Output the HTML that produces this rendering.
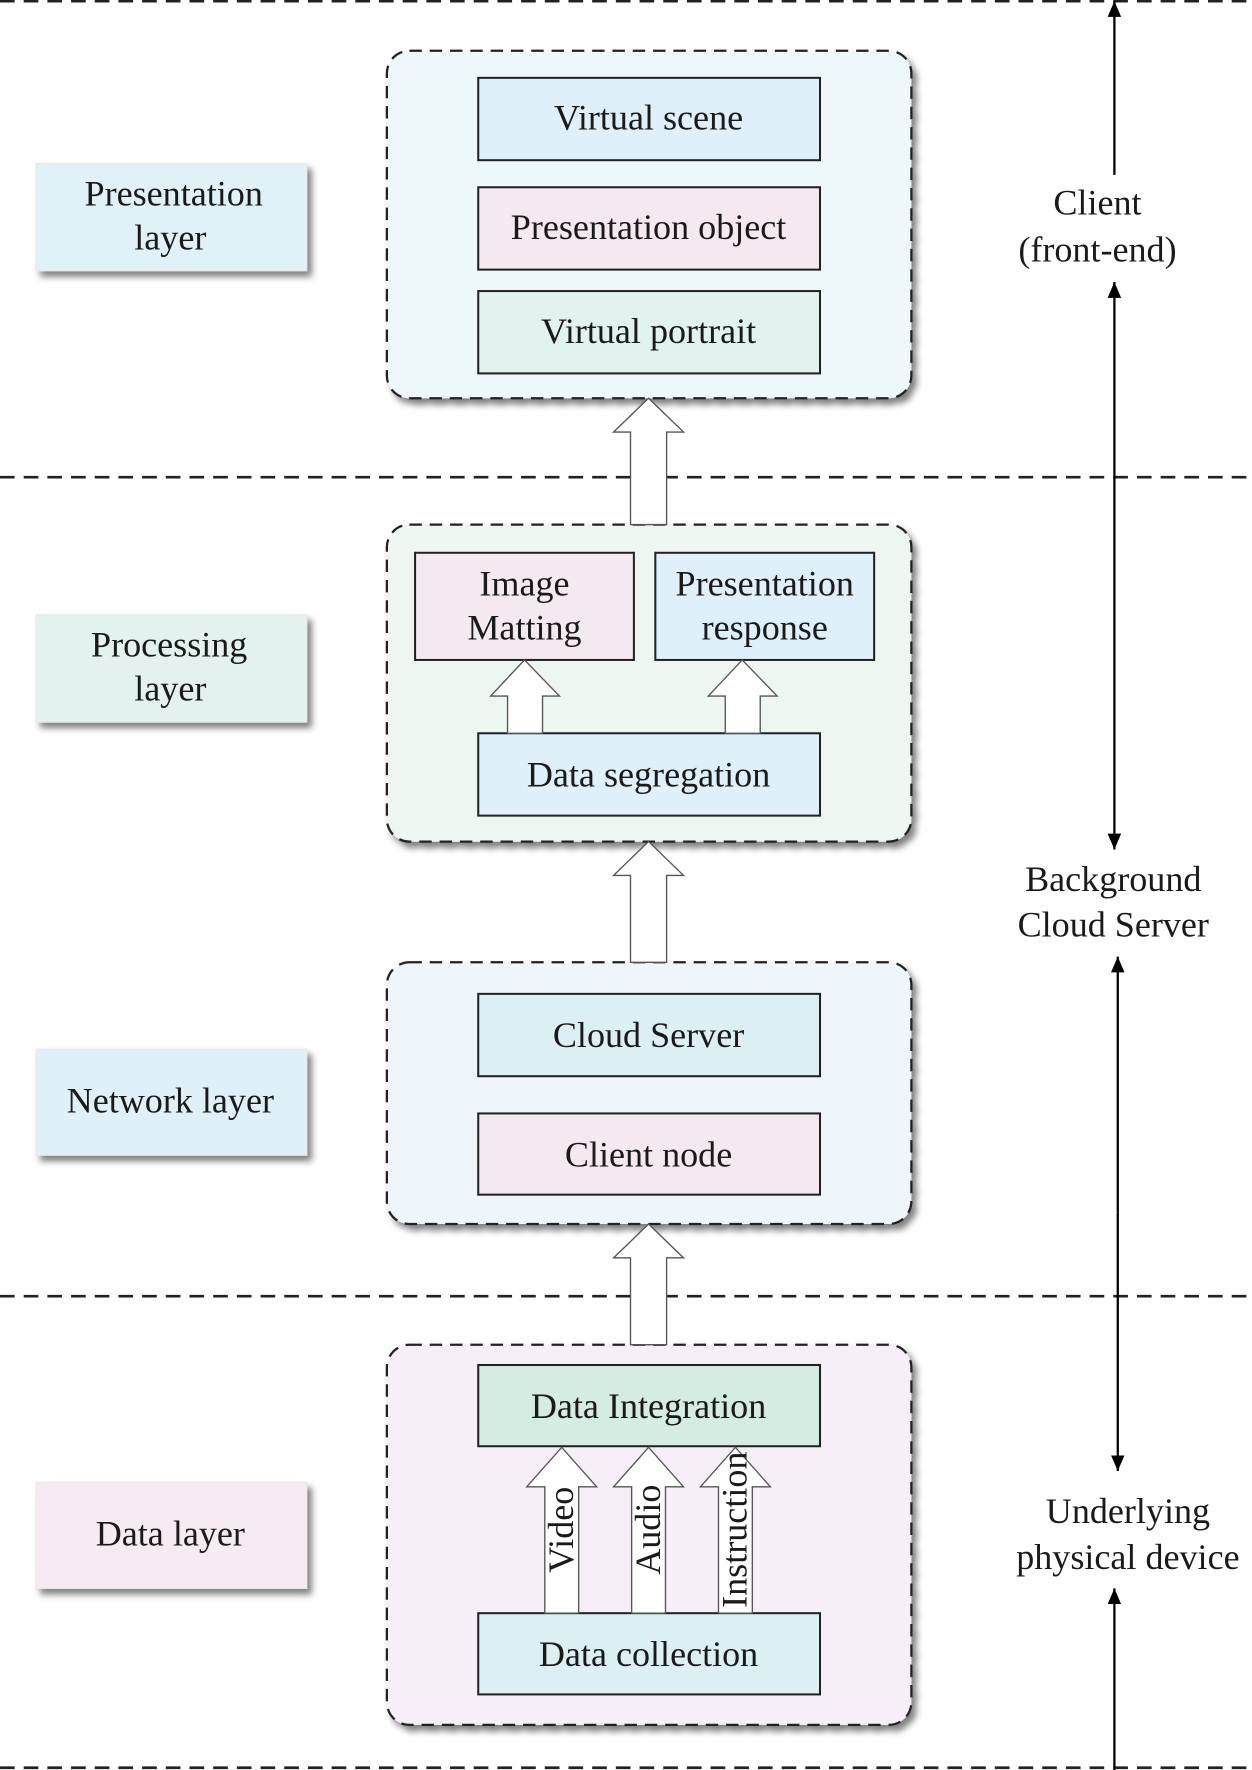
<!DOCTYPE html>
<html><head><meta charset="utf-8"><style>
html,body{margin:0;padding:0;background:#fff;}
svg{display:block;}
text{font-family:"Liberation Serif",serif;font-size:32px;fill:#1a1a1a;}
</style></head><body>
<svg width="1252" height="1770" viewBox="0 0 1110 1569" preserveAspectRatio="none" xmlns="http://www.w3.org/2000/svg">
<defs>
<filter id="sh" x="-10%" y="-10%" width="130%" height="130%"><feGaussianBlur in="SourceAlpha" stdDeviation="3"/><feOffset dx="4" dy="5"/><feComponentTransfer><feFuncA type="linear" slope="0.5"/></feComponentTransfer><feMerge><feMergeNode/><feMergeNode in="SourceGraphic"/></feMerge></filter>
<marker id="ah" markerWidth="16" markerHeight="16" refX="14" refY="6" orient="auto" markerUnits="userSpaceOnUse"><path d="M0,0 L14,6 L0,12 Z" fill="#000"/></marker>
</defs>
<g stroke="#222" stroke-width="2.4" stroke-dasharray="13,8">
<line x1="0" y1="1" x2="1110" y2="1"/>
<line x1="0" y1="423" x2="1110" y2="423"/>
<line x1="0" y1="1149" x2="1110" y2="1149"/>
<line x1="0" y1="1567" x2="1110" y2="1567"/>
</g>
<g stroke="#000" stroke-width="2">
<line x1="988" y1="155" x2="988" y2="1" marker-end="url(#ah)"/>
<line x1="988" y1="500" x2="988" y2="250" marker-end="url(#ah)"/>
<line x1="988" y1="500" x2="988" y2="753" marker-end="url(#ah)"/>
<line x1="991" y1="1075" x2="991" y2="848" marker-end="url(#ah)"/>
<line x1="991" y1="1075" x2="991" y2="1304" marker-end="url(#ah)"/>
<line x1="988" y1="1569" x2="988" y2="1408" marker-end="url(#ah)"/>
</g>
<g text-anchor="middle">
<text x="973" y="190">Client</text>
<text x="973" y="232">(front-end)</text>
<text x="987" y="790">Background</text>
<text x="987" y="830">Cloud Server</text>
<text x="1000" y="1350">Underlying</text>
<text x="1000" y="1391">physical device</text>
</g>
<g filter="url(#sh)" stroke="#e8e8e8" stroke-width="1">
<rect x="32" y="145" width="240" height="95" fill="#e0f1f7"/>
<rect x="32" y="545" width="240" height="95" fill="#e3f2ee"/>
<rect x="32" y="930" width="240" height="94" fill="#e0f0f8"/>
<rect x="32" y="1314" width="240" height="94" fill="#f6ebf3"/>
</g>
<g text-anchor="middle">
<text x="154" y="182">Presentation</text><text x="151" y="221">layer</text>
<text x="150" y="582">Processing</text><text x="151" y="621">layer</text>
<text x="151" y="986">Network layer</text>
<text x="151" y="1370">Data layer</text>
</g>
<g filter="url(#sh)" stroke="#222" stroke-width="2" stroke-dasharray="11,7">
<rect x="343" y="45" width="465" height="308" rx="20" fill="#eef7fa"/>
<rect x="343" y="465" width="465" height="281" rx="20" fill="#eef6f2"/>
<rect x="343" y="853" width="465" height="232" rx="20" fill="#eef5fb"/>
<rect x="343" y="1192" width="465" height="337" rx="20" fill="#f7eff7"/>
</g>
<g stroke="#222" stroke-width="1.8">
<rect x="424" y="69" width="303" height="73" fill="#dff0fa"/>
<rect x="424" y="166" width="303" height="73" fill="#f4e8f1"/>
<rect x="424" y="258" width="303" height="73" fill="#e2f2ee"/>
<rect x="368" y="490" width="194" height="95" fill="#f4e8f1"/>
<rect x="581" y="490" width="194" height="95" fill="#dff0fa"/>
<rect x="424" y="650" width="303" height="73" fill="#dff0fa"/>
<rect x="424" y="881" width="303" height="73" fill="#dcf0f4"/>
<rect x="424" y="987" width="303" height="72" fill="#f4e8f1"/>
<rect x="424" y="1210" width="303" height="72" fill="#d5ece3"/>
<rect x="424" y="1430" width="303" height="72" fill="#dcf0f4"/>
</g>
<g text-anchor="middle">
<text x="575" y="115">Virtual scene</text>
<text x="575" y="212">Presentation object</text>
<text x="575" y="304">Virtual portrait</text>
<text x="465" y="528">Image</text><text x="465" y="567">Matting</text>
<text x="678" y="528">Presentation</text><text x="678" y="567">response</text>
<text x="575" y="697">Data segregation</text>
<text x="575" y="928">Cloud Server</text>
<text x="575" y="1034">Client node</text>
<text x="575" y="1257">Data Integration</text>
<text x="575" y="1477">Data collection</text>
</g>
<g fill="#fff" stroke="#555" stroke-width="1.2">
<path d="M559,465 L559,383 L544,383 L575,353 L606,383 L591,383 L591,465 Z"/>
<path d="M559,853 L559,776 L544,776 L575,746 L606,776 L591,776 L591,853 Z"/>
<path d="M559,1192 L559,1115 L544,1115 L575,1085 L606,1115 L591,1115 L591,1192 Z"/>
<path d="M450,650 L450,617 L435,617 L465,585 L496,617 L481,617 L481,650 Z"/>
<path d="M643,650 L643,617 L628,617 L658,585 L689,617 L674,617 L674,650 Z"/>
<path d="M483,1430 L483,1318 L467,1318 L498,1283 L529,1318 L513,1318 L513,1430 Z"/>
<path d="M560,1430 L560,1318 L544,1318 L575,1283 L606,1318 L590,1318 L590,1430 Z"/>
<path d="M637,1430 L637,1318 L621,1318 L652,1283 L683,1318 L667,1318 L667,1430 Z"/>
</g>
<g text-anchor="middle" style="font-size:28px">
<text transform="translate(508,1356) rotate(-90)">Video</text>
<text transform="translate(585,1356) rotate(-90)">Audio</text>
<text transform="translate(662,1356) rotate(-90)">Instruction</text>
</g>
</svg>
</body></html>
